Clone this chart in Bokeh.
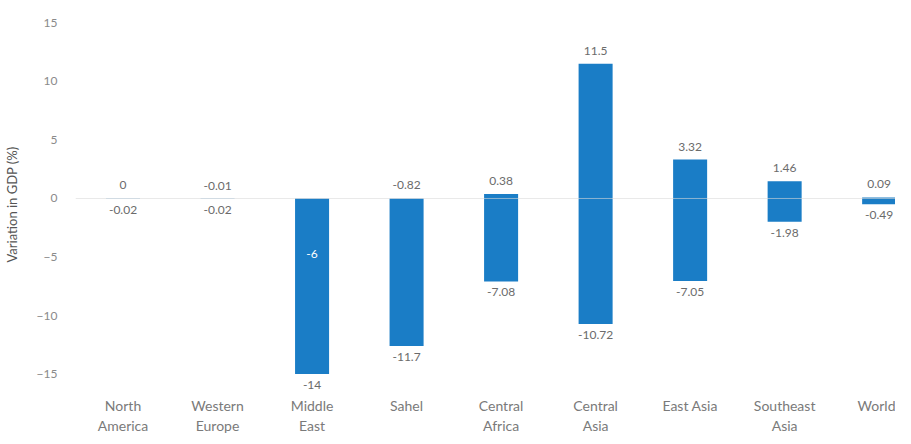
from bokeh.plotting import figure
from bokeh.models import ColumnDataSource, FixedTicker, Span
from bokeh.core.properties import value
from bokeh.embed import file_html
from bokeh.resources import INLINE

# ---- data ----
regions = ["North\nAmerica", "Western\nEurope", "Middle\nEast", "Sahel", "Central\nAfrica",
           "Central\nAsia", "East Asia", "Southeast\nAsia", "World"]
bar_high = [0.0, -0.01, 0.0, 0.0, 0.38, 11.5, 3.32, 1.46, 0.09]
bar_low = [-0.02, -0.02, -15.0, -12.6, -7.08, -10.72, -7.05, -1.98, -0.49]
high_labels = ["0", "-0.01", "-6", "-0.82", "0.38", "11.5", "3.32", "1.46", "0.09"]
low_labels = ["-0.02", "-0.02", "-14", "-11.7", "-7.08", "-10.72", "-7.05", "-1.98", "-0.49"]
y_ticks = [-15, -10, -5, 0, 5, 10, 15]
inside_label_region = "Middle\nEast"

FONT = "Lato"
BAR = "#1a7dc6"
LABEL = "#6b6b6b"

xs = list(range(len(regions)))
inside = [r == inside_label_region for r in regions]

p = figure(width=895, height=436, output_backend="svg", toolbar_location=None,
           x_range=(-0.503, 8.173), y_range=(-16.74, 15.71),
           min_border_left=68, min_border_right=0, min_border_top=14, min_border_bottom=30)
p.outline_line_color = None
p.xgrid.grid_line_color = None
p.ygrid.grid_line_color = None

p.vbar(x=xs, top=bar_high, bottom=bar_low, width=0.36, fill_color=BAR, line_color=None)

p.add_layout(Span(location=0, dimension="width", line_color="#d9d9d9", line_alpha=0.6, line_width=1))

top_src = ColumnDataSource(dict(
    x=[x for x, i in zip(xs, inside) if not i],
    y=[y for y, i in zip(bar_high, inside) if not i],
    t=[t for t, i in zip(high_labels, inside) if not i]))
p.text(x="x", y="y", text="t", source=top_src, text_align="center", text_baseline="bottom",
       y_offset=-9, text_font=value(FONT), text_font_size="12px", text_color=LABEL)

in_src = ColumnDataSource(dict(
    x=[x for x, i in zip(xs, inside) if i],
    y=[y for y, i in zip(bar_high, inside) if i],
    t=[t for t, i in zip(high_labels, inside) if i]))
p.text(x="x", y="y", text="t", source=in_src, text_align="center", text_baseline="middle",
       y_offset=56, text_font=value(FONT), text_font_size="12px", text_color="white")

low_src = ColumnDataSource(dict(x=xs, y=bar_low, t=low_labels))
p.text(x="x", y="y", text="t", source=low_src, text_align="center", text_baseline="top",
       y_offset=7, text_font=value(FONT), text_font_size="12px", text_color=LABEL)

# axes
p.xaxis.ticker = FixedTicker(ticks=xs)
p.xaxis.major_label_overrides = {x: r for x, r in zip(xs, regions)}
p.xaxis.axis_line_color = None
p.xaxis.major_tick_line_color = None
p.xaxis.minor_tick_line_color = None
p.xaxis.major_tick_out = 0
p.xaxis.major_label_standoff = 2
p.xaxis.major_label_text_font = FONT
p.xaxis.major_label_text_font_size = "14px"
p.xaxis.major_label_text_color = "#7a7a7a"

p.yaxis.ticker = FixedTicker(ticks=y_ticks)
p.yaxis.axis_line_color = None
p.yaxis.major_tick_line_color = None
p.yaxis.minor_tick_line_color = None
p.yaxis.major_tick_out = 0
p.yaxis.major_label_standoff = 18
p.yaxis.major_label_text_font = FONT
p.yaxis.major_label_text_font_size = "12px"
p.yaxis.major_label_text_color = "#8a8a8a"
p.yaxis.axis_label = "Variation in GDP (%)"
p.yaxis.axis_label_text_font = FONT
p.yaxis.axis_label_text_font_style = "normal"
p.yaxis.axis_label_text_font_size = "13px"
p.yaxis.axis_label_text_color = "#555555"
p.yaxis.axis_label_standoff = 14

open("out.html", "w").write(file_html(p, INLINE))
